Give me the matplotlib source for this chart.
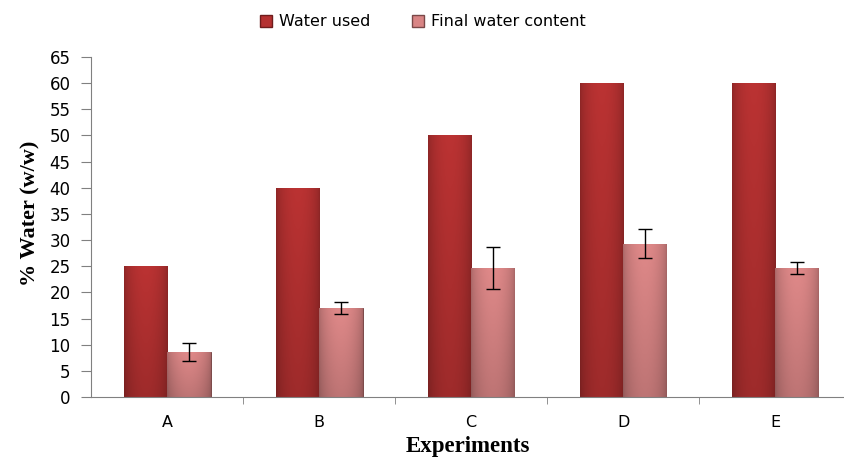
import numpy as np
import matplotlib
matplotlib.use('Agg')
import matplotlib.pyplot as plt
from matplotlib.patches import Patch

# data
experiments = ['A', 'B', 'C', 'D', 'E']
water_used = [25, 40, 50, 60, 60]
final_water = [8.6, 17.0, 24.7, 29.3, 24.7]
final_err = [1.8, 1.2, 4.0, 2.8, 1.2]

col_used = '#b53131'
col_final = '#d98585'

fig = plt.figure(figsize=(8.45, 4.59), dpi=100)
ax = fig.add_axes([0.108, 0.135, 0.892, 0.741])

x = np.arange(len(experiments))
w = 0.285


def shade_bars(bars, base):
    # horizontal gradient: darker at the edges, lighter in the middle
    rgb = np.array(matplotlib.colors.to_rgb(base))
    t = np.linspace(0, 1, 64)
    f = 0.78 + 0.25 * np.sin(np.pi * t) ** 0.6
    img = np.clip(rgb[None, :] * f[:, None], 0, 1)[None, :, :]
    vert = np.linspace(1.0, 0.85, 32)[:, None, None]
    img = np.clip(img * vert, 0, 1)
    for b in bars:
        x0, y0 = b.get_x(), b.get_y()
        im = ax.imshow(img, extent=(x0, x0 + b.get_width(), y0, y0 + b.get_height()),
                       aspect='auto', zorder=2, origin='upper')
        im.set_clip_path(b)


b1 = ax.bar(x - w / 2, water_used, w, color=col_used, edgecolor='#6e1c1c', linewidth=0.7, zorder=2)
b2 = ax.bar(x + w / 2, final_water, w, color=col_final, edgecolor='#7a4848', linewidth=0.7, zorder=2)
shade_bars(b1, col_used)
shade_bars(b2, col_final)
ax.errorbar(x + w / 2, final_water, yerr=final_err, fmt='none', ecolor='black',
            elinewidth=1, capsize=5, capthick=1, zorder=4)

ax.set_xlim(-0.5, 4.46)
ax.set_ylim(0, 65)
ax.set_yticks(range(0, 66, 5))
ax.set_xticks(x)
ax.set_xticklabels(experiments, fontsize=11.5, fontfamily='DejaVu Sans')
ax.set_xticks(np.arange(0.5, 4.5, 1), minor=True)
ax.tick_params(axis='x', which='major', length=0, pad=13)
ax.tick_params(axis='x', which='minor', length=5, color='#808080')
ax.tick_params(axis='y', length=7, pad=8, color='#808080', labelsize=12)
for lab in ax.get_yticklabels():
    lab.set_fontfamily('DejaVu Sans')

for s in ['top', 'right']:
    ax.spines[s].set_visible(False)
for s in ['left', 'bottom']:
    ax.spines[s].set_color('#808080')

ax.set_ylabel('% Water (w/w)', fontsize=16, fontweight='bold', fontfamily='Liberation Serif')
ax.yaxis.set_label_coords(-0.067, 0.54)
ax.set_xlabel('Experiments', fontsize=16.5, fontweight='bold', fontfamily='Liberation Serif', labelpad=4)

handles = [Patch(facecolor=col_used, edgecolor='#6e1c1c'), Patch(facecolor=col_final, edgecolor='#7a4848')]
fig.legend(handles, ['Water used', 'Final water content'], loc='upper center',
           bbox_to_anchor=(0.5, 1.0), ncol=2, frameon=False, handlelength=0.8, handleheight=0.8,
           handletextpad=0.4, columnspacing=2.6, prop={'family': 'DejaVu Sans', 'size': 11.5})

fig.savefig('out.png', dpi=100)
